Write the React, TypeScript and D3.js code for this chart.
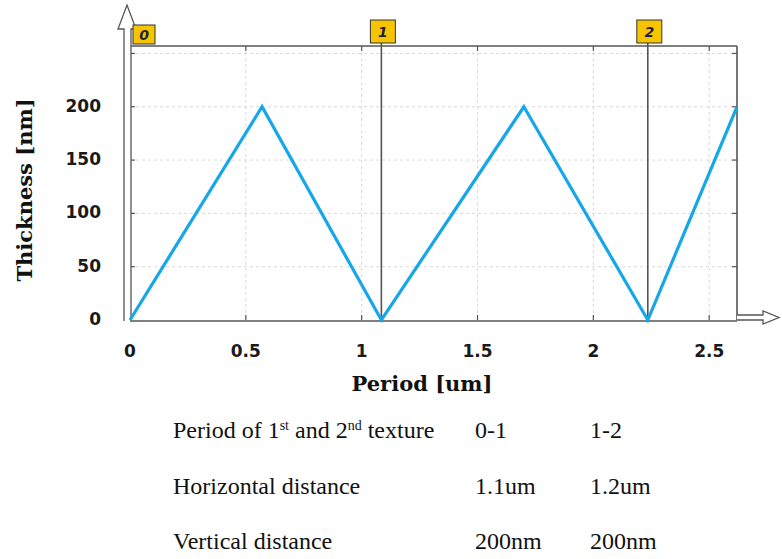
import React, { useEffect, useRef } from 'react';
import * as d3 from 'd3';

// profile vertices
const periodValues = [0, 0.57, 1.085, 1.7, 2.235, 2.62];
const thicknessValues = [0, 200, 0, 200, 0, 200];

const xTicks = [0, 0.5, 1, 1.5, 2, 2.5];
const xTickLabels = ['0', '0.5', '1', '1.5', '2', '2.5'];
const yTicks = [0, 50, 100, 150, 200, 250];
const yTickLabels = ['0', '50', '100', '150', '200', ''];

const markerNames = ['0', '1', '2'];
const markerPositions = [0, 1.085, 2.235];

const tableLabels = ['Period of 1st and 2nd texture', 'Horizontal distance', 'Vertical distance'];
const tableFirst = ['0-1', '1.1um', '200nm'];
const tableSecond = ['1-2', '1.2um', '200nm'];

const W = 782;
const H = 559;

const App = () => {
  const ref = useRef<SVGSVGElement>(null);

  useEffect(() => {
    const svg = d3.select(ref.current);
    svg.selectAll('*').remove();

    const left = 130;
    const right = 737;
    const top = 46;
    const bottom = 320;

    const x = d3.scaleLinear().domain([0, 2.62]).range([left, right]);
    const y = d3.scaleLinear().domain([0, 257]).range([bottom, top]);

    // grid
    const grid = svg.append('g')
      .attr('stroke', '#cfcfcf')
      .attr('stroke-dasharray', '3,3')
      .attr('stroke-width', 0.8);
    grid.selectAll('line.vx')
      .data(xTicks.slice(1))
      .join('line')
        .attr('x1', d => x(d)).attr('x2', d => x(d))
        .attr('y1', top).attr('y2', bottom);
    grid.selectAll('line.hy')
      .data(yTicks.slice(1))
      .join('line')
        .attr('class', 'hy')
        .attr('x1', left).attr('x2', right)
        .attr('y1', d => y(d)).attr('y2', d => y(d));

    // frame
    const frame = svg.append('g').attr('stroke', '#555').attr('fill', 'none');
    frame.append('line').attr('x1', left).attr('x2', right).attr('y1', top).attr('y2', top).attr('stroke-width', 1.6);
    frame.append('line').attr('x1', right).attr('x2', right).attr('y1', top).attr('y2', bottom).attr('stroke-width', 1.6);
    frame.append('line').attr('x1', left).attr('x2', right).attr('y1', bottom + 1).attr('y2', bottom + 1).attr('stroke-width', 1.6);

    // tick marks
    const ticks = svg.append('g').attr('stroke', '#555').attr('stroke-width', 1.2);
    xTicks.slice(1).forEach(t => {
      ticks.append('line').attr('x1', x(t)).attr('x2', x(t)).attr('y1', bottom).attr('y2', bottom - 5);
      ticks.append('line').attr('x1', x(t)).attr('x2', x(t)).attr('y1', top).attr('y2', top + 5);
    });
    yTicks.slice(1).forEach(t => {
      ticks.append('line').attr('x1', left).attr('x2', left + 5).attr('y1', y(t)).attr('y2', y(t));
      ticks.append('line').attr('x1', right).attr('x2', right - 5).attr('y1', y(t)).attr('y2', y(t));
    });

    // y axis hollow arrow
    svg.append('path')
      .attr('d', `M124,${bottom + 1} L124,29 L118,29 L127,5 L136,29 L131,29 L131,${bottom + 1}`)
      .attr('fill', '#fff')
      .attr('stroke', '#555')
      .attr('stroke-width', 1.3);

    // x axis hollow arrow
    svg.append('path')
      .attr('d', `M${right},315 L763,315 L763,311 L779,317.5 L763,324 L763,320 L${right},320`)
      .attr('fill', '#fff')
      .attr('stroke', '#555')
      .attr('stroke-width', 1.3);

    // marker lines and badges
    const markers = svg.append('g');
    markerPositions.forEach((p, i) => {
      if (i > 0) {
        markers.append('line')
          .attr('x1', x(p)).attr('x2', x(p))
          .attr('y1', 43).attr('y2', bottom)
          .attr('stroke', '#555')
          .attr('stroke-width', 1.6);
      }
      const bx = i === 0 ? x(p) + 3 : x(p) - 11;
      const g = markers.append('g').attr('transform', `translate(${bx},${i === 0 ? 25 : 20})`);
      g.append('rect')
        .attr('width', i === 0 ? 22 : 25)
        .attr('height', i === 0 ? 19 : 23)
        .attr('fill', '#f6c500')
        .attr('stroke', '#333')
        .attr('stroke-width', 1);
      g.append('text')
        .attr('x', i === 0 ? 11 : 12.5)
        .attr('y', i === 0 ? 15 : 17)
        .attr('text-anchor', 'middle')
        .style('font', 'italic bold 14px "DejaVu Sans"')
        .attr('fill', '#1c2340')
        .text(markerNames[i]);
    });

    // profile line
    const pts: [number, number][] = periodValues.map((p, i) => [p, thicknessValues[i]]);
    svg.append('path')
      .datum(pts)
      .attr('fill', 'none')
      .attr('stroke', '#16a6ea')
      .attr('stroke-width', 3.2)
      .attr('stroke-linejoin', 'miter')
      .attr('d', d3.line<[number, number]>().x(d => x(d[0])).y(d => y(d[1])));

    // tick labels
    svg.append('g')
      .style('font', 'bold 17px "DejaVu Sans"')
      .attr('fill', '#1a1a1a')
      .selectAll('text')
      .data(xTicks)
      .join('text')
        .attr('x', d => x(d))
        .attr('y', 357)
        .attr('text-anchor', 'middle')
        .text((d, i) => xTickLabels[i]);
    svg.append('g')
      .style('font', 'bold 17px "DejaVu Sans"')
      .attr('fill', '#1a1a1a')
      .selectAll('text')
      .data(yTicks)
      .join('text')
        .attr('x', 101)
        .attr('y', d => y(d) + 5)
        .attr('text-anchor', 'end')
        .text((d, i) => yTickLabels[i]);

    // axis titles
    svg.append('text')
      .attr('x', 422)
      .attr('y', 391)
      .attr('text-anchor', 'middle')
      .style('font', 'bold 21px "DejaVu Serif"')
      .attr('fill', '#111')
      .text('Period [um]');
    svg.append('text')
      .attr('transform', 'translate(32,190) rotate(-90)')
      .attr('text-anchor', 'middle')
      .style('font', 'bold 21px "DejaVu Serif"')
      .attr('fill', '#111')
      .text('Thickness [nm]');

    // table under the chart
    const rowY = [438, 494, 549];
    const table = svg.append('g')
      .attr('font-family', '"Liberation Serif", "Times New Roman", serif')
      .attr('font-size', 24)
      .attr('fill', '#111');
    rowY.forEach((ry, i) => {
      const t = table.append('text').attr('x', 173).attr('y', ry);
      if (i === 0) {
        t.append('tspan').text('Period of 1');
        t.append('tspan').attr('dy', -8).attr('font-size', 14).text('st');
        t.append('tspan').attr('dy', 8).text(' and 2');
        t.append('tspan').attr('dy', -8).attr('font-size', 14).text('nd');
        t.append('tspan').attr('dy', 8).text(' texture');
      } else {
        t.text(tableLabels[i]);
      }
      table.append('text').attr('x', 475).attr('y', ry).text(tableFirst[i]);
      table.append('text').attr('x', 590).attr('y', ry).text(tableSecond[i]);
    });
  }, []);

  return (
    <svg
      ref={ref}
      width={W}
      height={H}
      style={{ position: 'absolute', left: 0, top: 0, background: '#fff' }}
    />
  );
};

export default App;
